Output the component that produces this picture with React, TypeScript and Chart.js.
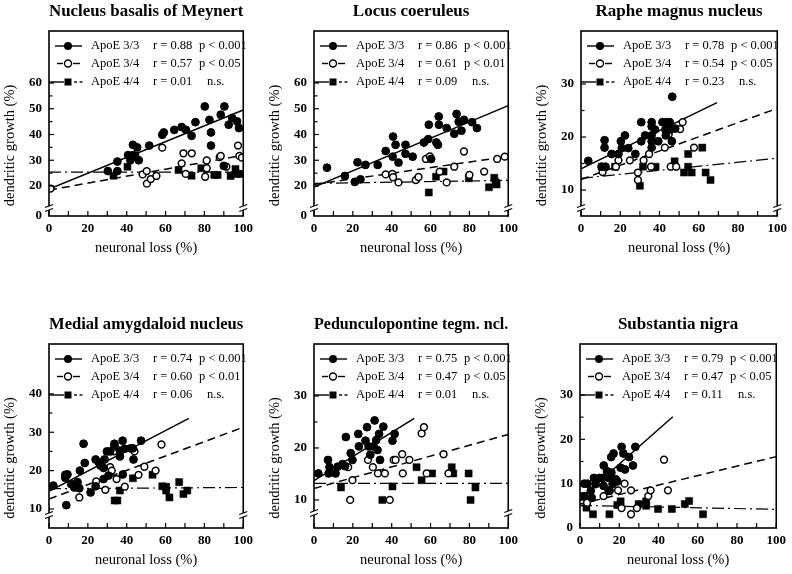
import React, { useEffect, useRef } from 'react';
import { Chart, registerables } from 'chart.js';

Chart.register(...registerables);

type Pt = [number, number];

// ---------- Panel 1: Nucleus basalis of Meynert ----------
const NBM_E33: Pt[] = [
  [30.3, 25.8], [35.2, 29.5], [35.2, 25.8], [40.7, 32], [41.9, 30], [43.2, 36], [45.4, 35], [43.4, 32],
  [46.2, 30], [51.6, 35.7], [58.3, 39.9], [59.1, 40.8], [64.5, 41.8], [68.3, 42.9], [70.5, 41.8],
  [73.4, 39.5], [75.4, 44.8], [80.2, 50.9], [82.6, 45.7], [83.4, 40.8], [83.4, 35.7], [88.4, 47.7],
  [90.3, 50.9], [92.5, 43.8], [94.3, 46.4], [96.8, 45.1], [97.8, 42.5], [90, 27.8],
];
const NBM_E34: Pt[] = [
  [0.8, 19], [48.2, 24.5], [50.3, 25.8], [50.4, 20.9], [52.4, 22.7], [55.3, 23.9], [58.3, 34.9],
  [68.3, 28.8], [69.2, 32.7], [70.4, 24.7], [73.5, 32.7], [80.4, 23.6], [81.2, 26.9], [81.2, 29.9],
  [87.9, 31.2], [88.4, 31.7], [91.3, 27.5], [97.3, 35.7], [98, 31.7], [99.3, 31],
];
const NBM_E44: Pt[] = [
  [33.2, 24], [40.4, 27.5], [42.5, 31.8], [44.5, 31.8], [66.7, 26.2], [73.4, 24], [78.4, 26.9],
  [85.1, 24.3], [86.8, 24.3], [93.5, 23.9], [96, 26.6], [96.8, 24.7], [98.8, 24.7],
];
const NBM_FIT33: Pt[] = [[0, 18.8], [100, 49.5]];
const NBM_FIT34: Pt[] = [[0, 18.4], [98, 31.7]];
const NBM_FIT44: Pt[] = [[0, 25.4], [100, 25.4]];
const NBM_R = ['r = 0.88', 'r = 0.57', 'r = 0.01'];
const NBM_P = ['p < 0.001', 'p < 0.05', 'n.s.'];

// ---------- Panel 2: Locus coeruleus ----------
const LC_E33: Pt[] = [
  [6.7, 27.1], [15.9, 23.9], [21, 21.6], [22.4, 29.2], [23.9, 22.6], [26.5, 28.2], [32.8, 28.2],
  [36.9, 33.6], [40.5, 31.4], [40.7, 39.2], [42, 36], [43.5, 29.1], [47.1, 36], [47.1, 32.5],
  [50.8, 31.4], [56.6, 36.9], [58.8, 38.2], [59.1, 43.8], [60.3, 30.5], [63, 36.9], [63.8, 36],
  [64.2, 47], [64.3, 43.8], [68.3, 42.5], [72.2, 40.3], [73.4, 48], [74.5, 45], [75.9, 41.5],
  [77.2, 45.7], [81.4, 44.8], [83.9, 42.5],
];
const LC_E34: Pt[] = [
  [36.9, 24.5], [40.3, 24.7], [40.7, 23.4], [43.5, 21.4], [52.4, 22.3], [53.8, 23.5], [57.6, 30.5],
  [59.6, 31.5], [64.7, 25.6], [68.3, 21.4], [72.2, 27.5], [77.2, 33.4], [80, 24.3], [87.6, 25.6],
  [94.3, 30.5], [98.2, 31.4],
];
const LC_E44: Pt[] = [
  [59.1, 17.5], [62.8, 23.6], [66.7, 25.6], [79.7, 23], [90.1, 19.5], [92.8, 23.2], [93.5, 21.4], [94, 20.6],
];
const LC_FIT33: Pt[] = [[0, 19.6], [100, 51.2]];
const LC_FIT34: Pt[] = [[0, 20.6], [100, 31.5]];
const LC_FIT44: Pt[] = [[0, 21], [100, 22.2]];
const LC_R = ['r = 0.86', 'r = 0.61', 'r = 0.09'];
const LC_P = ['p < 0.001', 'p < 0.01', 'n.s.'];

// ---------- Panel 3: Raphe magnus nucleus ----------
const RM_E33: Pt[] = [
  [3.7, 15.5], [10.5, 14.4], [12.5, 14.4], [12, 19.4], [12, 18], [15.6, 16.8], [19.1, 16.8], [20.3, 19.2],
  [20.8, 17.9], [22.4, 20.3], [24.1, 17.9], [27.7, 16.8], [30.7, 22.8], [30.7, 19.2], [32.7, 20.3],
  [36, 22.8], [36, 22], [36, 20.3], [36, 19.2], [36, 18], [37.7, 21.4], [39.4, 19.2], [41.5, 22.8],
  [43.5, 22.8], [45.2, 22.8], [43, 21.4], [45.5, 21.4], [43.2, 20.3], [46.3, 19.2], [46.5, 27.6], [48, 21.6],
];
const RM_E34: Pt[] = [
  [11, 13.4], [17.8, 14.4], [19.1, 15.6], [24.9, 15.6], [29, 13.3], [29, 11.9], [31.9, 15.6], [34.7, 16.8],
  [35.7, 14.4], [42.7, 18], [44.7, 20.5], [45.7, 14.4], [48.5, 14.4], [50.5, 21.5], [51.8, 22.8], [57.6, 18],
];
const RM_E44: Pt[] = [
  [10.6, 14.4], [17.3, 14.4], [30, 10.8], [31.6, 14.4], [38, 14.4], [47.7, 15.4], [52.5, 13.3], [54.6, 16.8],
  [54.6, 14.4], [56.4, 13.3], [61.8, 18], [63.5, 13.3], [66, 11.9],
];
const RM_FIT33: Pt[] = [[0, 14], [69.3, 26.5]];
const RM_FIT34: Pt[] = [[0, 12], [100, 25.4]];
const RM_FIT44: Pt[] = [[0, 12.2], [100, 16]];
const RM_R = ['r = 0.78', 'r = 0.54', 'r = 0.23'];
const RM_P = ['p < 0.001', 'p < 0.05', 'n.s.'];

// ---------- Panel 4: Medial amygdaloid nucleus ----------
const MA_E33: Pt[] = [
  [2.2, 16.1], [8.4, 18.9], [8.4, 18.1], [9.5, 19], [8.9, 11], [11.4, 16.5], [13, 15.6], [14.7, 17],
  [15.6, 15.4], [15.9, 20], [17.8, 27], [18.4, 22], [21.4, 14.3], [24, 22.9], [24, 15.9], [25.6, 22.2],
  [26.5, 21.3], [28.1, 20.7], [28.6, 22.9], [28.1, 17.8], [30.6, 18.7], [29.8, 25], [31.5, 25], [33.7, 27],
  [33.7, 26.3], [36.5, 23.7], [36.5, 25.2], [37.9, 27.8], [38, 19], [39, 25.7], [41.9, 25.8], [43.2, 25.8],
  [43.5, 22.9], [47.4, 27.8],
];
const MA_E34: Pt[] = [
  [15.6, 13], [24.3, 17.2], [29, 15], [31.5, 20.9], [32.3, 20], [33.2, 25], [34.8, 17.8], [39, 15.8],
  [44, 25], [46.1, 18.9], [49.1, 21], [54.9, 20], [57.9, 26.8],
];
const MA_E44: Pt[] = [
  [14.2, 15.8], [33.8, 12.2], [35.2, 12.2], [36.5, 14.8], [36.5, 24.5], [43.2, 18], [53.3, 18.9],
  [58.3, 15.9], [60.3, 15.8], [60.3, 14.8], [62, 13], [67, 17], [69.2, 13.9], [71.2, 14.8],
];
const MA_FIT33: Pt[] = [[0, 14.6], [72, 33.6]];
const MA_FIT34: Pt[] = [[0, 12.6], [100, 31.3]];
const MA_FIT44: Pt[] = [[0, 15.3], [100, 15.6]];
const MA_R = ['r = 0.74', 'r = 0.60', 'r = 0.06'];
const MA_P = ['p < 0.001', 'p < 0.01', 'n.s.'];

// ---------- Panel 5: Pedunculopontine tegm. ncl. ----------
const PP_E33: Pt[] = [
  [2.2, 15.1], [7.2, 17.7], [8, 16.3], [7.5, 15.1], [11.1, 15.1], [12.2, 16.4], [14.7, 16.9], [16, 16.5],
  [16.4, 22.1], [18.9, 19], [19.8, 17.7], [22.8, 22.7], [23.1, 20.3], [26.5, 21.4], [27.3, 24], [28.1, 20.3],
  [29, 18.7], [30.7, 20.3], [31.2, 25.3], [32, 21.5], [32.7, 19.6], [33.5, 22.7], [34, 17.7], [35.7, 24.1],
  [40.4, 21.4], [41.5, 22.7],
];
const PP_E34: Pt[] = [
  [17.6, 16.3], [18.6, 10], [19.8, 13.8], [27.8, 17.7], [30.3, 16.3], [32.9, 15.1], [36.5, 15.1], [39, 10],
  [41, 17.7], [42, 17.7], [45.4, 18.8], [45.7, 15.1], [49.1, 17.7], [55.4, 22.8], [56.6, 24], [58, 15.1],
  [66.7, 18.8], [69.2, 15.1],
];
const PP_E44: Pt[] = [
  [13.9, 12.4], [35.2, 10], [40.4, 12.6], [52.8, 16.3], [55.4, 13.8], [60.8, 15.1], [70.9, 16.3],
  [71.7, 15.1], [79.6, 15.1], [80.6, 10], [83.1, 12.4],
];
const PP_FIT33: Pt[] = [[0, 13.7], [51.6, 25.7]];
const PP_FIT34: Pt[] = [[0, 12.2], [100, 22.6]];
const PP_FIT44: Pt[] = [[0, 13.2], [100, 13.2]];
const PP_R = ['r = 0.75', 'r = 0.47', 'r = 0.01'];
const PP_P = ['p < 0.001', 'p < 0.05', 'n.s.'];

// ---------- Panel 6: Substantia nigra ----------
const SN_E33: Pt[] = [
  [1.2, 7.1], [2.2, 10], [3.8, 10], [2.2, 7.2], [5.5, 8.4], [6, 6.8], [7.1, 11.3], [8, 9.9], [9.9, 11.3],
  [11.6, 11.3], [12, 9.5], [12.1, 14.1], [13.8, 12.8], [14.6, 11.3], [15.1, 8.4], [14.6, 8.4], [15.9, 16],
  [16, 12.5], [16.6, 9.9], [17.1, 16.8], [18.2, 11], [19, 10.5], [20.7, 13.6], [21.2, 18.3], [22.1, 16.8],
  [22.9, 13.2], [25, 16], [27, 14.1], [28.2, 18.3],
];
const SN_E34: Pt[] = [
  [3.6, 5.7], [12, 7.2], [19.4, 8.5], [21.2, 4.5], [22.7, 10], [26, 8.5], [26, 3.1], [29, 4.5],
  [34.8, 7.2], [36, 8.5], [42.8, 15.4], [44.8, 8.5],
];
const SN_E44: Pt[] = [
  [3.3, 4.6], [6.6, 3.1], [15, 3.1], [19, 5.2], [20.7, 6], [29.9, 5.4], [33.7, 6], [33.7, 5],
  [39.8, 4.3], [46.8, 4.3], [53.4, 5.4], [55.6, 6.1], [62.7, 3.1],
];
const SN_FIT33: Pt[] = [[0, 6.6], [47.3, 25.1]];
const SN_FIT34: Pt[] = [[0, 5.4], [100, 16.1]];
const SN_FIT44: Pt[] = [[0, 5.1], [100, 4.2]];
const SN_R = ['r = 0.79', 'r = 0.47', 'r = 0.11'];
const SN_P = ['p < 0.001', 'p < 0.05', 'n.s.'];

const GROUPS = ['ApoE 3/3', 'ApoE 3/4', 'ApoE 4/4'];
const X_TICKS = [0, 20, 40, 60, 80, 100];
const X_MINOR = [10, 30, 50, 70, 90];

const FONT = '"Liberation Serif", "Times New Roman", serif';

interface PanelCfg {
  title: string;
  e33: Pt[]; e34: Pt[]; e44: Pt[];
  f33: Pt[]; f34: Pt[]; f44: Pt[];
  r: string[]; p: string[];
  yMin: number; yMax: number;
  yMajor: number[]; yMinor: number[];
  zero: boolean; brk: number;
  box: { l: number; t: number; r: number; b: number };
}

const PANELS: PanelCfg[] = [
  { title: 'Nucleus basalis of Meynert', e33: NBM_E33, e34: NBM_E34, e44: NBM_E44, f33: NBM_FIT33, f34: NBM_FIT34, f44: NBM_FIT44, r: NBM_R, p: NBM_P,
    yMin: 8.35, yMax: 80.2, yMajor: [20, 30, 40, 50, 60], yMinor: [25, 35, 45, 55], zero: true, brk: 8, box: { l: 49, t: 31, r: 248, b: 216 } },
  { title: 'Locus coeruleus', e33: LC_E33, e34: LC_E34, e44: LC_E44, f33: LC_FIT33, f34: LC_FIT34, f44: LC_FIT44, r: LC_R, p: LC_P,
    yMin: 8.35, yMax: 80.2, yMajor: [20, 30, 40, 50, 60], yMinor: [25, 35, 45, 55], zero: true, brk: 8, box: { l: 314, t: 31, r: 513, b: 216 } },
  { title: 'Raphe magnus nucleus', e33: RM_E33, e34: RM_E34, e44: RM_E44, f33: RM_FIT33, f34: RM_FIT34, f44: RM_FIT44, r: RM_R, p: RM_P,
    yMin: 5.1, yMax: 40, yMajor: [10, 20, 30], yMinor: [15, 25], zero: false, brk: 8, box: { l: 581, t: 31, r: 782, b: 216 } },
  { title: 'Medial amygdaloid nucleus', e33: MA_E33, e34: MA_E34, e44: MA_E44, f33: MA_FIT33, f34: MA_FIT34, f44: MA_FIT44, r: MA_R, p: MA_P,
    yMin: 5.04, yMax: 53, yMajor: [10, 20, 30, 40], yMinor: [15, 25, 35], zero: false, brk: 13, box: { l: 49, t: 344, r: 248, b: 528 } },
  { title: 'Pedunculopontine tegm. ncl.', e33: PP_E33, e34: PP_E34, e44: PP_E44, f33: PP_FIT33, f34: PP_FIT34, f44: PP_FIT44, r: PP_R, p: PP_P,
    yMin: 4.6, yMax: 40, yMajor: [10, 20, 30], yMinor: [15, 25], zero: false, brk: 15, box: { l: 314, t: 344, r: 513, b: 528 } },
  { title: 'Substantia nigra', e33: SN_E33, e34: SN_E34, e44: SN_E44, f33: SN_FIT33, f34: SN_FIT34, f44: SN_FIT44, r: SN_R, p: SN_P,
    yMin: 0, yMax: 41.5, yMajor: [0, 10, 20, 30], yMinor: [5, 15, 25], zero: false, brk: 0, box: { l: 580, t: 344, r: 781, b: 528 } },
];

const Y_W = 49, TITLE_H = 31, X_H = 45, PAD_R = 10;

const toXY = (a: Pt[]) => a.map(([x, y]) => ({ x, y }));

function makeFramePlugin(cfg: PanelCfg) {
  return {
    id: 'frame',
    afterDatasetsDraw(chart: any) {
      const { ctx, chartArea } = chart;
      const { left, right, top, bottom } = chartArea;
      const xs = chart.scales.x, ys = chart.scales.y;
      const line = (x1: number, y1: number, x2: number, y2: number) => {
        ctx.beginPath(); ctx.moveTo(x1, y1); ctx.lineTo(x2, y2); ctx.stroke();
      };
      ctx.save();
      ctx.strokeStyle = '#000';
      ctx.lineWidth = 1.6;
      ctx.setLineDash([]);
      ctx.strokeRect(left, top, right - left, bottom - top);
      ctx.lineWidth = 1.2;
      cfg.yMajor.forEach((v) => {
        if (v <= cfg.yMin) return;
        const py = ys.getPixelForValue(v);
        line(left, py, left + 5, py);
      });
      cfg.yMinor.forEach((v) => {
        const py = ys.getPixelForValue(v);
        line(left, py, left + 3.5, py);
      });
      [...X_TICKS, ...X_MINOR].forEach((v) => {
        const px = xs.getPixelForValue(v);
        line(px, bottom, px, bottom - 5);
      });
      // axis breaks
      if (cfg.brk > 0) {
        const by = bottom - cfg.brk;
        [left, right].forEach((ax) => {
          ctx.fillStyle = '#fff';
          ctx.fillRect(ax - 3, by - 2, 6, 4);
          ctx.lineWidth = 1.2;
          line(ax - 4, by - 0.5, ax + 4, by - 3.5);
          line(ax - 4, by + 3.5, ax + 4, by + 0.5);
        });
      }
      // legend
      const rowsY = [top + 15, top + 32.5, top + 51];
      ctx.lineWidth = 1.4;
      ctx.strokeStyle = '#000';
      ctx.fillStyle = '#000';
      line(left + 6, rowsY[0], left + 33, rowsY[0]);
      ctx.beginPath(); ctx.arc(left + 19, rowsY[0], 4, 0, Math.PI * 2); ctx.fill();
      line(left + 8, rowsY[1], left + 14, rowsY[1]);
      line(left + 24, rowsY[1], left + 31, rowsY[1]);
      ctx.beginPath(); ctx.arc(left + 19, rowsY[1], 3.5, 0, Math.PI * 2);
      ctx.fillStyle = '#fff'; ctx.fill(); ctx.stroke();
      ctx.fillStyle = '#000';
      line(left, rowsY[2], left + 15, rowsY[2]);
      ctx.fillRect(left + 15.5, rowsY[2] - 3.5, 7, 7);
      line(left + 25, rowsY[2], left + 28, rowsY[2]);
      line(left + 30.5, rowsY[2], left + 33.5, rowsY[2]);
      ctx.font = `12.5px ${FONT}`;
      ctx.textBaseline = 'middle';
      ctx.textAlign = 'left';
      for (let i = 0; i < 3; i++) {
        ctx.fillText(GROUPS[i], left + 42, rowsY[i]);
        ctx.fillText(cfg.r[i], left + 104, rowsY[i]);
        ctx.fillText(cfg.p[i], left + (cfg.p[i] === 'n.s.' ? 158 : 150), rowsY[i]);
      }
      // y axis title
      ctx.save();
      ctx.translate(left - 39, (top + bottom) / 2 + 22);
      ctx.rotate(-Math.PI / 2);
      ctx.font = `14.5px ${FONT}`;
      ctx.textAlign = 'center';
      ctx.textBaseline = 'middle';
      ctx.fillText('dendritic growth (%)', 0, 0);
      ctx.restore();
      ctx.restore();
    },
  };
}

function Panel({ cfg }: { cfg: PanelCfg }) {
  const ref = useRef<HTMLCanvasElement>(null);
  const { l, t, r, b } = cfg.box;
  const cl = l - Y_W, ct = t - TITLE_H;
  const cw = r - l + Y_W + PAD_R, ch = b - t + TITLE_H + X_H;

  useEffect(() => {
    if (!ref.current) return;
    const tickFont = { family: FONT, size: 13, weight: 'bold' as const };
    const chart = new Chart(ref.current, {
      type: 'scatter',
      data: {
        datasets: [
          { type: 'line', data: toXY(cfg.f33), borderColor: '#000', borderWidth: 1.5, pointRadius: 0, fill: false, order: 2 } as any,
          { type: 'line', data: toXY(cfg.f34), borderColor: '#000', borderWidth: 1.5, borderDash: [8, 5], pointRadius: 0, fill: false, order: 2 } as any,
          { type: 'line', data: toXY(cfg.f44), borderColor: '#000', borderWidth: 1.2, borderDash: [12, 4, 2, 4], pointRadius: 0, fill: false, order: 2 } as any,
          { label: GROUPS[0], data: toXY(cfg.e33), pointStyle: 'circle', pointRadius: 3.9, backgroundColor: '#000', borderColor: '#000', borderWidth: 1, order: 0 },
          { label: GROUPS[1], data: toXY(cfg.e34), pointStyle: 'circle', pointRadius: 3.4, backgroundColor: '#fff', borderColor: '#000', borderWidth: 1.5, order: 0 },
          { label: GROUPS[2], data: toXY(cfg.e44), pointStyle: 'rect', pointRadius: 5, backgroundColor: '#000', borderColor: '#000', borderWidth: 0.5, order: 0 },
        ],
      },
      options: {
        responsive: false,
        animation: false,
        layout: { padding: { left: 0, right: PAD_R, top: 0, bottom: 0 } },
        plugins: {
          legend: { display: false },
          tooltip: { enabled: false },
          title: {
            display: true,
            text: cfg.title,
            fullSize: false,
            color: '#000',
            font: { family: FONT, size: 17, weight: 'bold', lineHeight: 1.2 },
            padding: { top: 1.8, bottom: 8.8 },
          },
        },
        scales: {
          x: {
            type: 'linear',
            min: 0,
            max: 100,
            grid: { display: false, drawTicks: false },
            border: { display: false },
            afterBuildTicks: (s: any) => { s.ticks = X_TICKS.map((v) => ({ value: v })); },
            ticks: { font: tickFont, color: '#000', padding: 5, maxRotation: 0, autoSkip: false },
            title: { display: true, text: 'neuronal loss (%)', color: '#000', font: { family: FONT, size: 14.5 }, padding: { top: 0, bottom: 4.4 } },
            afterFit: (s: any) => { s.height = X_H; },
          },
          y: {
            type: 'linear',
            min: cfg.yMin,
            max: cfg.yMax,
            grid: { display: false, drawTicks: false },
            border: { display: false },
            afterBuildTicks: (s: any) => {
              const vals = cfg.zero ? [cfg.yMin, ...cfg.yMajor] : cfg.yMajor;
              s.ticks = vals.map((v) => ({ value: v }));
            },
            ticks: {
              font: tickFont,
              color: '#000',
              padding: 7,
              autoSkip: false,
              callback: (v: any) => (cfg.zero && Math.abs(Number(v) - cfg.yMin) < 1e-6 ? '0' : String(v)),
            },
            afterFit: (s: any) => { s.width = Y_W; },
          },
        },
      } as any,
      plugins: [makeFramePlugin(cfg)],
    });
    return () => chart.destroy();
  }, [cfg]);

  return (
    <canvas
      ref={ref}
      width={cw}
      height={ch}
      style={{ position: 'absolute', left: cl, top: ct, width: cw, height: ch }}
    />
  );
}

export default function App() {
  return (
    <div style={{ position: 'absolute', left: 0, top: 0, width: 792, height: 574, background: '#fff' }}>
      {PANELS.map((p) => (
        <Panel key={p.title} cfg={p} />
      ))}
    </div>
  );
}
